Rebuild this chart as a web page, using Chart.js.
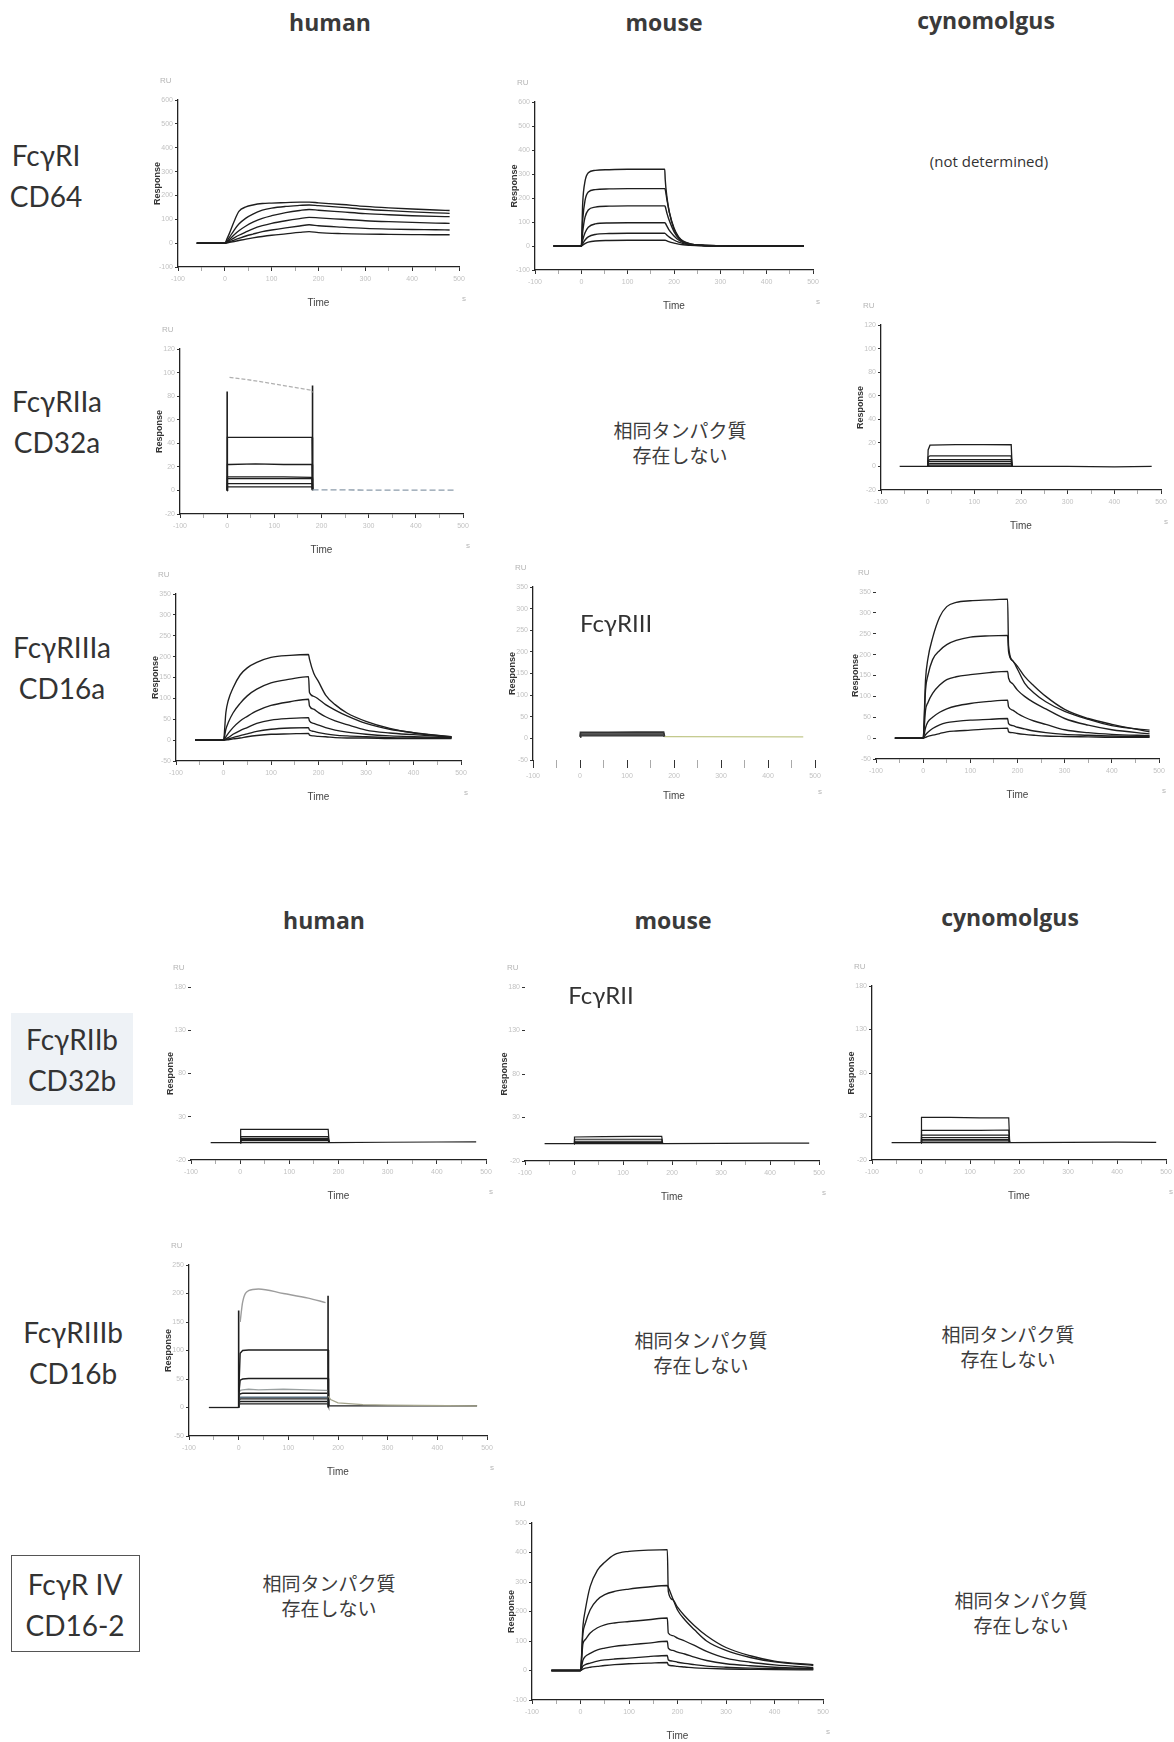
<!DOCTYPE html>
<html><head><meta charset="utf-8">
<script src="https://cdn.jsdelivr.net/npm/chart.js@4.4.1/dist/chart.umd.min.js"></script>
<style>
html,body{margin:0;padding:0;background:#fff;}
#page{position:relative;width:1174px;height:1742px;overflow:hidden;background:#fff;}
.t{position:absolute;white-space:nowrap;}
.hdr{font-family:"Open Sans",sans-serif;font-weight:700;font-size:23px;line-height:30px;transform:translateX(-50%);color:#3a3a3a;}
.row{font-family:Lato,sans-serif;font-size:28px;line-height:41px;text-align:center;transform:translateX(-50%);color:#333;}
.jp{font-family:"Noto Sans CJK JP",sans-serif;font-size:19px;line-height:25px;text-align:center;transform:translateX(-50%);color:#3c3c3c;}
.nd{font-family:"Open Sans",sans-serif;font-size:15px;line-height:20px;transform:translateX(-50%);color:#333;}
.inl{font-family:Lato,sans-serif;font-size:24px;line-height:28px;transform:translateX(-50%);color:#333;}
.ax{font-family:"Liberation Sans",sans-serif;font-size:8px;color:#b5b5b5;}
canvas{position:absolute;}
</style>
</head><body>
<div id="page">
  <div class="t hdr" style="left:330px;top:7px;">human</div>
  <div class="t hdr" style="left:664px;top:7px;">mouse</div>
  <div class="t hdr" style="left:986px;top:5px;">cynomolgus</div>
  <div class="t hdr" style="left:324px;top:905px;">human</div>
  <div class="t hdr" style="left:673px;top:905px;">mouse</div>
  <div class="t hdr" style="left:1010px;top:902px;">cynomolgus</div>

  <div class="t row" style="left:46px;top:135px;">FcγRI<br>CD64</div>
  <div class="t row" style="left:57px;top:381px;">FcγRIIa<br>CD32a</div>
  <div class="t row" style="left:62px;top:627px;">FcγRIIIa<br>CD16a</div>
  <div style="position:absolute;left:11px;top:1013px;width:122px;height:92px;background:#eef2f6;"></div>
  <div class="t row" style="left:72px;top:1019px;">FcγRIIb<br>CD32b</div>
  <div class="t row" style="left:73px;top:1312px;">FcγRIIIb<br>CD16b</div>
  <div style="position:absolute;left:11px;top:1555px;width:129px;height:97px;border:1px solid #555;box-sizing:border-box;"></div>
  <div class="t row" style="left:75px;top:1564px;">FcγR IV<br>CD16-2</div>

  <div class="t nd" style="left:989px;top:151px;">(not determined)</div>
  <div class="t jp" style="left:680px;top:417px;">相同タンパク質<br>存在しない</div>
  <div class="t jp" style="left:701px;top:1327px;">相同タンパク質<br>存在しない</div>
  <div class="t jp" style="left:1008px;top:1321px;">相同タンパク質<br>存在しない</div>
  <div class="t jp" style="left:329px;top:1570px;">相同タンパク質<br>存在しない</div>
  <div class="t jp" style="left:1021px;top:1587px;">相同タンパク質<br>存在しない</div>
  <div class="t inl" style="left:616px;top:609px;z-index:3;">FcγRIII</div>
  <div class="t inl" style="left:601px;top:981px;z-index:3;">FcγRII</div>
</div>
<script>
// ---------- DATA (time in s, response in RU) ----------
// human FcγRI
const T_hRI = [-60,0,5,10,20,30,45,60,80,100,130,160,180,200,250,300,350,400,450,480];
const hRI_1 = [0,0,20,42,92,133,152,160,166,168,170,172,172,169,162,154,148,143,139,137];
const hRI_2 = [0,0,10,25,55,80,105,122,138,147,154,158,160,157,150,142,136,131,127,125];
const hRI_3 = [0,0,6,15,35,52,72,88,104,115,128,137,141,138,131,124,119,115,112,111];
const hRI_4 = [0,0,4,10,22,33,47,60,73,83,94,103,108,106,100,94,90,87,84,83];
const hRI_5 = [0,0,2,6,13,20,30,38,48,55,64,72,77,73,67,62,59,57,56,55];
const hRI_6 = [0,0,1,3,7,11,17,22,28,33,39,45,48,44,40,38,37,36,35,35];
// mouse FcγRI
const T_mRI = [-60,0,3,8,15,30,60,100,150,180,181,185,190,200,210,220,235,260,300,400,480];
const mRI_1 = [0,0,180,270,305,315,318,320,320,320,278,200,140,70,35,18,8,3,1,0,0];
const mRI_2 = [0,0,110,190,225,235,238,239,239,239,236,190,140,75,38,20,9,3,1,0,0];
const mRI_3 = [0,0,60,120,150,162,166,167,167,167,165,135,105,60,32,17,8,3,1,0,0];
const mRI_4 = [0,0,25,55,78,92,96,97,97,97,96,82,65,42,25,14,7,3,1,0,0];
const mRI_5 = [0,0,10,25,38,48,52,53,53,53,52,45,37,25,16,10,5,2,1,0,0];
const mRI_6 = [0,0,4,10,16,21,23,24,24,24,24,21,17,12,8,5,3,1,0,0,0];
// human FcγRIIa
const T_hRIIa = [0,0.5,5,60,120,179,180,181,200,300,400,480];
const hRIIa_1 = [null,null,96,93,89,85,83,null,null,null,null,null];
const hRIIa_2 = [0,45,45,45,45,45,45,0.5,null,null,null,null];
const hRIIa_3 = [0,22,22,22.5,22,22,22,0.5,null,null,null,null];
const hRIIa_4 = [0,11.5,11.5,11.5,11.5,11,11,0.5,null,null,null,null];
const hRIIa_5 = [0,10,10,10,10,10,10,0.5,null,null,null,null];
const hRIIa_6 = [0,5.7,5.7,5.7,5.7,5.7,5.7,0.5,null,null,null,null];
const hRIIa_7 = [0,3,3,3,3,3,3,0.5,null,null,null,null];
const hRIIa_after = [null,null,null,null,null,null,null,0.5,0.5,0.3,0.3,0.3];
const T_hRIIa_spike = [0,0,90,181,181];
const hRIIa_spike = [0,84,null,89,0];
// cynomolgus FcγRIIa
const T_cRIIa = [-60,0,1,5,60,120,179,181,300,400,480];
const cRIIa_base = [0,0,0,0,0,0,0,0,0,-0.4,0];
const cRIIa_1 = [null,0,14,18,18.5,18.5,18.4,0,null,null,null];
const cRIIa_2 = [null,0,8,9,9,9,9,0,null,null,null];
const cRIIa_3 = [null,0,5,5.7,5.7,5.7,5.7,0,null,null,null];
const cRIIa_4 = [null,0,4,4.2,4.2,4.2,4.2,0,null,null,null];
const cRIIa_5 = [null,0,2,2.3,2.3,2.3,2.3,0,null,null,null];
const cRIIa_6 = [null,0,1,1.1,1.1,1.1,1.1,0,null,null,null];
// kinetic time grid (FcγRIIIa human / cyno, FcγRIV mouse)
const T_kin = [-60,0,5,10,20,35,50,70,100,140,179,181,190,200,215,235,260,300,350,400,480];
const hRIIIa_1 = [0,0,66,95,125,156,173,186,198,203,205,194,160,140,108,85,65,45,28,17,8];
const hRIIIa_2 = [0,0,26,42,65,88,106,122,137,146,152,114,105,98,85,72,58,40,26,18,8];
const hRIIIa_3 = [0,0,8,16,30,46,57,70,83,92,98,82,74,66,56,46,37,24,17,13,7];
const hRIIIa_4 = [0,0,3,6,14,23,30,40,48,52,54,46,40,36,30,24,19,14,10,8,6];
const hRIIIa_5 = [0,0,1,3,6,11,15,21,26,29,30,24,21,18,15,12,10,8,6,5,5];
const hRIIIa_6 = [0,0,0.5,1,3,5,8,11,14,15,16,12,10,9,8,6,5,5,4,4,4];
const cRIIIa_1 = [0,0,140,190,240,290,315,325,329,331,333,222,185,165,132,108,87,64,45,30,19];
const cRIIIa_2 = [0,0,115,150,188,210,224,234,242,245,246,208,185,172,148,125,100,69,47,33,15];
const cRIIIa_3 = [0,0,67,85,107,127,140,147,152,157,160,144,130,115,100,85,70,47,31,20,10];
const cRIIIa_4 = [0,0,25,39,50,62,70,77,83,88,91,75,67,59,50,41,33,20,13,9,6];
const cRIIIa_5 = [0,0,8,14,23,32,37,40,43,45,47,35,30,26,22,17,13,9,7,5,4];
const cRIIIa_6 = [0,0,2,4,7,11,15,17,19,22,24,15,13,11,9,7,5,4,3,2,2];
const mRIV_1 = [0,0,150,206,285,340,367,393,404,408,410,268,240,215,185,152,118,78,50,32,20];
const mRIV_2 = [0,0,125,160,206,240,257,268,276,283,288,282,245,205,172,138,100,68,44,29,17];
const mRIV_3 = [0,0,90,105,127,145,155,161,166,172,178,127,118,110,100,85,65,42,28,19,10];
const mRIV_4 = [0,0,35,48,58,70,76,82,87,93,99,76,68,62,56,45,34,23,16,11,6];
const mRIV_5 = [0,0,15,20,25,32,36,39,42,47,51,36,32,28,24,20,15,11,8,6,5];
const mRIV_6 = [0,0,5,8,11,14,17,20,23,25,27,19,16,14,12,9,7,5,4,3,2];
// mouse FcγRIII
const T_mRIII = [0,1,60,120,178,180,475];
const mRIII_1 = [4,14,14,14.5,14.5,4,null];
const mRIII_2 = [4,11,11,11,11,4,null];
const mRIII_3 = [4,8,8,8,8,4,null];
const mRIII_4 = [4,6,6,6,6,4,null];
const mRIII_after = [null,null,null,null,null,4,3.5];
// FcγRIIb (human / mouse FcγRII / cyno)
const T_RIIb = [-60,0,1,60,120,179,181,300,400,480];
const hRIIb_base = [0,0,0,0,0,0,0,0.5,0.8,1];
const hRIIb_1 = [null,0,15.4,15.5,15.5,15.4,0,null,null,null];
const hRIIb_2 = [null,0,7,7,7,7,0,null,null,null];
const hRIIb_3 = [null,0,5,5,5,5,0,null,null,null];
const hRIIb_4 = [null,0,3.8,3.8,3.8,3.8,0,null,null,null];
const hRIIb_5 = [null,0,2.3,2.3,2.3,2.3,0,null,null,null];
const mRII_base = [0,0,0,0,0,0,0,0.3,0.5,0.5];
const mRII_1 = [null,0,7.6,8,8.4,8.4,0,null,null,null];
const mRII_2 = [null,0,5,5,5,5,0,null,null,null];
const mRII_3 = [null,0,2.7,2.7,2.7,2.7,0,null,null,null];
const mRII_4 = [null,0,1.5,1.5,1.5,1.5,0,null,null,null];
const cRIIb_base = [0,0,0,0,0,0,0,0.3,0.5,0.3];
const cRIIb_1 = [null,0,29,29,28.5,28.5,0,null,null,null];
const cRIIb_2 = [null,0,14,14,14,14.5,0,null,null,null];
const cRIIb_3 = [null,0,8.5,8.5,8.5,8.5,0,null,null,null];
const cRIIb_4 = [null,0,5.8,5.8,5.8,5.8,0,null,null,null];
const cRIIb_5 = [null,0,3.5,3.5,3.5,3.5,0,null,null,null];
const cRIIb_6 = [null,0,2,2,2,2,0,null,null,null];
// human FcγRIIIb
const T_hRIIIb = [-60,0,1,3,8,20,40,90,140,175,180,181,185,200,250,300,480];
const hRIIIb_base = [0,0,null,null,null,null,null,null,null,null,null,null,null,null,null,null,null];
const hRIIIb_1 = [null,null,null,150,185,205,208,200,192,184,null,null,null,null,null,null,null];
const hRIIIb_2 = [null,0,45,95,100,101,101,101,101,101,101,3,null,null,null,null,null];
const hRIIIb_3 = [null,0,30,48,50,51,51,51,51,51,51,3,null,null,null,null,null];
const hRIIIb_4 = [null,0,25,30,31,32,31,32,31,30,30,3,null,null,null,null,null];
const hRIIIb_5 = [null,0,20,24,25,25,25,25,25,25,25,3,null,null,null,null,null];
const hRIIIb_6 = [null,0,15,18,18,18,18,18,18,18,18,3,null,null,null,null,null];
const hRIIIb_7 = [null,0,12,15,15,15,15,15,15,15,15,3,null,null,null,null,null];
const hRIIIb_8 = [null,0,8,10.5,10.5,10.5,10.5,10.5,10.5,10.5,10.5,3,null,null,null,null,null];
const hRIIIb_9 = [null,0,5,6.4,6.4,6.4,6.4,6.4,6.4,6.4,6.4,3,null,null,null,null,null];
const hRIIIb_after = [null,null,null,null,null,null,null,null,null,null,null,20,14,8,5,4,3];
const hRIIIb_afterB = [null,null,null,null,null,null,null,null,null,null,null,3,3,3,3,3,3];
const T_hRIIIb_spike = [0,0,90,180,180];
const hRIIIb_spike = [0,170,null,196,0];

// ---------- RENDERING ----------
const page = document.getElementById('page');
const L = 30, T = 26, R = 22, B = 46;
const DARK = '#1e1e1e', LIGHT = '#b0b0b0';

function lay(t, v, color, width, dash, smooth) {
  return {
    data: t.map((x, i) => ({x: x, y: v[i]})),
    borderColor: color, borderWidth: width, borderDash: dash || [],
    cubicInterpolationMode: smooth ? 'monotone' : 'default', tension: 0,
    pointRadius: 0, spanGaps: false, fill: false
  };
}
function kin(t, v) {
  return [lay(t, v, DARK, 1.35, [], true)];
}
function small(s, x, y) {
  const d = document.createElement('div');
  d.className = 't ax'; d.textContent = s;
  d.style.left = x + 'px'; d.style.top = y + 'px';
  page.appendChild(d);
}
function panel(rect, yr, datasets, o) {
  o = o || {};
  const [l, t, r, b] = rect;
  const w = Math.round(r - l + L + R), h = Math.round(b - t + T + B);
  const c = document.createElement('canvas');
  c.width = w; c.height = h;
  c.style.left = (l - L) + 'px'; c.style.top = (t - T) + 'px';
  c.style.width = w + 'px'; c.style.height = h + 'px';
  page.appendChild(c);
  small('RU', l - 18, t - 24);
  small('s', r + 3, b + 27);
  new Chart(c, {
    type: 'line',
    data: {datasets: datasets},
    options: {
      responsive: false, animation: false, devicePixelRatio: 1,
      layout: {padding: {left: 0, top: T, right: R, bottom: 0}},
      plugins: {legend: {display: false}, tooltip: {enabled: false}},
      scales: {
        x: {
          type: 'linear', min: -100, max: 500,
          afterFit: s => { s.height = B; },
          ticks: {stepSize: 50, autoSkip: false, maxRotation: 0, color: '#c2c2c2', padding: 4,
                  font: {size: 7, family: 'Liberation Sans'},
                  callback: v => (v % 100 === 0 ? String(v) : '')},
          grid: {drawOnChartArea: false, tickLength: o.xTick || 4, color: '#333',
                 tickColor: ctx => (ctx.tick && ctx.tick.value % 100 !== 0 ? '#aaa' : '#333')},
          border: {display: o.xLine !== false, color: '#222', width: 1.3},
          title: {display: true, text: 'Time', color: '#444', font: {size: 10, family: 'Liberation Sans'}, padding: {top: 4, bottom: 4}}
        },
        y: {
          type: 'linear', min: yr[0], max: yr[1],
          afterFit: s => { s.width = L; },
          ticks: {stepSize: yr[2], autoSkip: false, color: '#c2c2c2', padding: 2,
                  font: {size: 7, family: 'Liberation Sans'}, callback: v => String(v)},
          grid: {drawOnChartArea: false, tickLength: 3, color: '#333'},
          border: {display: o.yLine !== false, color: '#222', width: 1.3},
          title: {display: true, text: 'Response', color: '#333', font: {size: 9, family: 'Liberation Sans', weight: 'bold'}, padding: {top: 4, bottom: 0}}
        }
      }
    }
  });
}

// human FcγRI
panel([178, 100, 459, 267], [-100, 600, 100],
  [].concat(kin(T_hRI, hRI_1), kin(T_hRI, hRI_2), kin(T_hRI, hRI_3), kin(T_hRI, hRI_4), kin(T_hRI, hRI_5), kin(T_hRI, hRI_6)));
// mouse FcγRI
panel([535, 102, 813, 270], [-100, 600, 100],
  [mRI_1, mRI_2, mRI_3, mRI_4, mRI_5, mRI_6].map(v => lay(T_mRI, v, DARK, 1.4, [], true)));
// human FcγRIIa
panel([180, 349, 463, 514], [-20, 120, 20],
  [lay(T_hRIIa, hRIIa_1, LIGHT, 1.3, [4, 2]),
   lay(T_hRIIa, hRIIa_after, '#8c9cab', 1.3, [6, 3]),
   lay(T_hRIIa, hRIIa_2, DARK, 1.4), lay(T_hRIIa, hRIIa_3, DARK, 1.4), lay(T_hRIIa, hRIIa_4, DARK, 1.3),
   lay(T_hRIIa, hRIIa_5, DARK, 1.3), lay(T_hRIIa, hRIIa_6, DARK, 1.3), lay(T_hRIIa, hRIIa_7, DARK, 1.3),
   lay(T_hRIIa_spike, hRIIa_spike, DARK, 1.6)]);
// cyno FcγRIIa
panel([881, 325, 1161, 490], [-20, 120, 20],
  [cRIIa_base, cRIIa_1, cRIIa_2, cRIIa_3, cRIIa_4, cRIIa_5, cRIIa_6].map(v => lay(T_cRIIa, v, DARK, 1.3)));
// human FcγRIIIa
panel([176, 594, 461, 761], [-50, 350, 50],
  [].concat(kin(T_kin, hRIIIa_1), kin(T_kin, hRIIIa_2), kin(T_kin, hRIIIa_3), kin(T_kin, hRIIIa_4), kin(T_kin, hRIIIa_5), kin(T_kin, hRIIIa_6)));
// mouse FcγRIII
panel([533, 587, 815, 760], [-50, 350, 50],
  [lay(T_mRIII, mRIII_after, '#c3c98c', 1.4),
   lay(T_mRIII, mRIII_1, '#333', 1.6), lay(T_mRIII, mRIII_2, '#555', 1.6),
   lay(T_mRIII, mRIII_3, '#444', 1.6), lay(T_mRIII, mRIII_4, '#333', 1.6)],
  {xLine: false, xTick: 8});
// cyno FcγRIIIa
panel([876, 592, 1159, 759], [-50, 350, 50],
  [].concat(kin(T_kin, cRIIIa_1), kin(T_kin, cRIIIa_2), kin(T_kin, cRIIIa_3), kin(T_kin, cRIIIa_4), kin(T_kin, cRIIIa_5), kin(T_kin, cRIIIa_6)),
  {yLine: false});
// human FcγRIIb
panel([191, 987, 486, 1160], [-20, 180, 50],
  [hRIIb_base, hRIIb_1, hRIIb_2, hRIIb_3, hRIIb_4, hRIIb_5].map(v => lay(T_RIIb, v, DARK, 1.2)),
  {yLine: false});
// mouse FcγRII
panel([525, 987, 819, 1161], [-20, 180, 50],
  [mRII_base, mRII_1, mRII_2, mRII_3, mRII_4].map(v => lay(T_RIIb, v, DARK, 1.2)),
  {yLine: false});
// cyno FcγRIIb
panel([872, 986, 1166, 1160], [-20, 180, 50],
  [cRIIb_base, cRIIb_1, cRIIb_2, cRIIb_3, cRIIb_4, cRIIb_5, cRIIb_6].map(v => lay(T_RIIb, v, DARK, 1.2)));
// human FcγRIIIb
panel([189, 1265, 487, 1436], [-50, 250, 50],
  [lay(T_hRIIIb, hRIIIb_after, '#a4a48c', 1.3),
   lay(T_hRIIIb, hRIIIb_afterB, DARK, 1.3),
   lay(T_hRIIIb, hRIIIb_base, DARK, 1.3),
   lay(T_hRIIIb, hRIIIb_1, '#9d9d9d', 1.4, [], true),
   lay(T_hRIIIb, hRIIIb_2, DARK, 1.4), lay(T_hRIIIb, hRIIIb_3, DARK, 1.4),
   lay(T_hRIIIb, hRIIIb_4, '#9aa0a0', 1.3), lay(T_hRIIIb, hRIIIb_5, DARK, 1.3),
   lay(T_hRIIIb, hRIIIb_6, '#5a7080', 1.3), lay(T_hRIIIb, hRIIIb_7, DARK, 1.3),
   lay(T_hRIIIb, hRIIIb_8, DARK, 1.3), lay(T_hRIIIb, hRIIIb_9, DARK, 1.3),
   lay(T_hRIIIb_spike, hRIIIb_spike, DARK, 1.6)]);
// mouse FcγRIV
panel([532, 1523, 823, 1700], [-100, 500, 100],
  [].concat(kin(T_kin, mRIV_1), kin(T_kin, mRIV_2), kin(T_kin, mRIV_3), kin(T_kin, mRIV_4), kin(T_kin, mRIV_5), kin(T_kin, mRIV_6)));
</script>
</body></html>
